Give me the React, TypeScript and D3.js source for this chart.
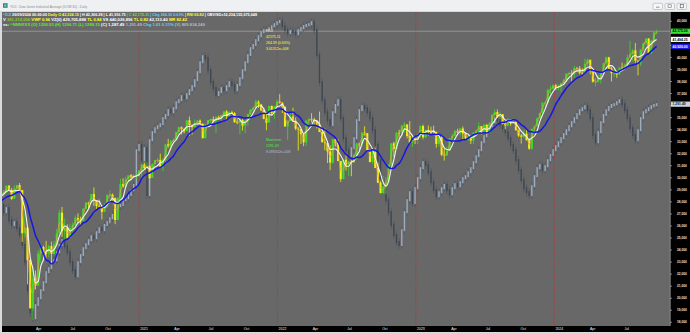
import React from "react";
import * as d3 from "d3";

// ---------- DATA ----------
const firstWeekEnding = "2020-01-03";
const warmupCloses = [26958, 27347, 27681, 28005, 27876, 28051, 28015, 28135, 28455, 28645];

const djiClose = [
  28634,28823,29348,28990,28256,29102,29398,28992,25409,25864,23186,19174,21637,21053,23719,24242,23775,23724,24331,23685,24465,25383,27111,25605,25871,25016,25827,26075,26672,26470,26428,27433,27931,27930,28654,28133,27666,27657,27174,27683,28586,28606,28336,26501,28323,29479,29263,29910,30218,30046,30179,30199,
  30606,31098,30814,30997,29983,31148,31458,31494,30932,31496,32779,32628,33073,33153,33801,34200,34043,33875,34778,34382,34208,34529,34756,34480,33290,34434,34786,34870,34687,35062,34935,35209,35515,35120,35456,35369,34608,34584,34798,34327,34746,35295,35677,35820,36328,36100,35602,34899,34580,35971,35365,35951,36338,
  36232,35912,34265,34725,35089,34738,34079,34059,33615,32944,34755,34862,34818,34721,34451,33811,32977,32899,32197,31262,33213,32900,31393,29889,31501,31097,31338,31288,31899,32845,32803,33761,33707,32283,31318,32151,30822,29590,28726,29297,29635,31083,32861,32403,33748,33746,34347,34430,33477,32921,33204,33147,
  33631,34303,33375,33978,33926,33870,33827,32817,33391,31910,31862,32238,33274,33485,33886,33809,34098,33674,33300,33427,33093,33762,33876,34299,33727,34408,33734,34509,35228,35459,35066,35281,34500,34346,34838,34577,34618,33964,33508,33407,33670,33127,32418,34061,34283,34947,35390,36246,36248,37306,37385,37690,
  37466,37593,37863,38109,38654,38671,38628,39131,39087,38723,38715,39476,39807,38905,37983,37986,38240,38676,39513,40004,39070,38686,38799,38589,39150,39119,39376,40001,40288,40590,39737,39498,40660,41175,41563,40345,41394,42063,42175,
];

const djiHigh = [
  28873,29009,29374,29374,29160,29380,29415,29568,28990,27100,25900,23180,22600,22300,24000,24260,24360,24760,24450,24700,24770,25760,27340,27580,26610,26130,26200,26290,26880,27050,26770,27500,28000,28000,28660,29200,28100,28200,27700,27900,28600,28960,28700,28340,28380,29930,29960,30110,30220,30320,30300,30300,
  30640,31190,31280,31270,31030,31200,31480,31650,32000,31630,32790,33230,33140,33260,33810,34260,34260,34120,34810,35090,34400,34850,34800,34850,34530,34500,34790,34900,35100,35100,35170,35250,35520,35630,35510,35560,35460,34900,34900,34900,34800,35300,35700,35900,36470,36440,36150,35820,35460,35980,36000,35960,36530,
  36950,36300,35900,34800,35460,35820,35000,34200,34050,33700,34760,35000,35370,35000,34800,35500,34100,34120,32900,32700,33220,33250,33200,31390,31520,31900,31400,31500,32000,32900,32900,33780,34280,33710,32350,32200,32500,31200,29750,30180,30040,31100,32880,33000,33800,33990,34350,34600,34430,34710,33550,33390,
  33650,34340,34420,34000,34340,34250,34330,33760,33420,33570,32500,32600,33300,33670,34000,34080,34150,34260,33760,33590,33500,33780,34000,34590,34300,34450,34450,34650,35280,35680,35680,35500,35300,34620,34980,34840,34980,34700,34000,33650,34000,34000,33300,34100,34300,35000,35400,36250,36300,37400,37640,37780,
  37800,37780,37900,38200,38700,38800,38930,39280,39200,39280,39100,39890,39890,39800,39000,38300,38550,38750,39530,40080,40050,39200,39000,38900,39200,39560,39480,40250,41380,40700,41200,39700,40700,41240,41600,41600,41430,42140,42300,
];

const djiLow = [
  28420,28440,28740,28900,28170,28260,29000,28940,24680,25020,21150,19120,18210,20740,21200,22930,23150,23360,23380,22790,23600,24440,25100,25080,24840,24980,24990,25520,25900,26250,25990,26400,27380,27500,27850,27660,27400,27500,26540,27150,27500,28250,28050,26150,26600,28300,29180,29300,29640,29850,29950,29900,
  30100,29880,30700,30850,29900,29990,31120,31260,30900,30550,31100,32500,32300,32800,33150,33620,33600,33700,33870,33470,33590,34200,34370,34430,33270,33290,34350,34390,34600,33740,34810,34750,35050,34700,35110,35300,34600,34450,33610,33920,33700,34350,35200,35450,35800,35800,35540,34860,33950,34600,35200,34900,35940,
  36150,35370,34240,33150,34700,34690,33960,32270,32800,32630,32650,34300,34600,34330,34100,33800,32910,32300,31230,30640,31150,32600,31390,29650,29900,30600,30140,30140,31200,31540,32280,32600,33500,32200,31280,31130,30800,29570,28720,28700,28660,29600,31000,31730,32400,33300,33600,33800,33280,32800,32570,32800,
  32810,33320,33200,33320,33500,33600,33650,32500,32580,31800,31430,31800,32220,33100,33400,33700,33500,33230,33200,33050,32800,32810,33560,33800,33600,33700,33600,33700,34500,35100,35000,34900,34430,34030,34300,34320,34470,33900,33400,32850,33350,33100,32330,32330,33800,34250,34900,35250,35900,36200,37000,37350,
  37300,37260,37120,37800,37950,38350,37920,38300,38800,38600,38550,38700,39300,38600,37900,37610,37900,37820,38600,39350,38900,38000,38400,38300,38550,38900,38950,39300,40000,39650,39500,38500,39280,40500,41000,40300,40300,41200,41900,
];

// Comparison series (its own units, drawn on its own scale)
const compareClose = [
  1039,1021,1031,1001,989, 996,981,964,939,896, 826,771,756,789,806, 826,846,871,881,896,
  901,921,939,951,936, 921,896,876,861,896, 914,931,941,951,961, 956,971,981,976,989,
  996,1006,1014,1026,1036, 1039,1051,1056,1064,1076, 1089,1176,1189,1151,1181, 1064,1201,1221,1231,1236,
  1241,1256,1264,1276,1271, 1281,1296,1301,1311,1306, 1316,1326,1336,1351,1371, 1396,1411,1406,1376,1346,
  1331,1314,1321,1331,1326, 1336,1346,1339,1326,1339, 1356,1376,1396,1414,1431, 1439,1451,1461,1471,1476,
  1476,1481,1486,1491,1496, 1499,1486,1476,1469,1474, 1471,1466,1476,1481,1486, 1489,1491,1496,1476,1414,
  1346,1301,1271,1251,1239, 1271,1289,1301,1256,1206, 1176,1161,1181,1206,1251, 1276,1286,1281,1271,1256,
  1226,1189,1151,1106,1081, 1051,1021,989,964,946, 939,976,1021,1051,1071, 1044,1081,1106,1131,1146,
  1139,1121,1096,1076,1061, 1071,1081,1089,1076,1066, 1081,1091,1086,1096,1106, 1111,1121,1131,1146,1161,
  1176,1196,1211,1226,1236, 1246,1256,1251,1239,1231, 1221,1206,1189,1176,1151, 1126,1101,1081,1071,1064,
  1086,1111,1131,1139,1126, 1136,1151,1164,1176,1186, 1196,1206,1216,1226,1236, 1246,1256,1266,1276,1281,
  1286,1276,1256,1214,1196, 1221,1246,1264,1276,1284, 1289,1291,1296,1301,1291, 1276,1256,1231,1214,1201,
  1226,1256,1271,1276,1281, 1286,1289,1291,
];
const compareDomain = [745.7, 1498.2];
const compareLastLabel = "1,291.49";

const priceDomain = [18000, 43000];
const priceTicks = [18000,19000,20000,21000,22000,23000,24000,25000,26000,27000,28000,29000,30000,31000,32000,33000,34000,35000,36000,37000,38000,39000,40000,41000,42000,43000];

const dateTickValues = ["2020-04-01","2020-07-01","2020-10-01","2021-01-01","2021-04-01","2021-07-01","2021-10-01","2022-01-01","2022-04-01","2022-07-01","2022-10-01","2023-01-01","2023-04-01","2023-07-01","2023-10-01","2024-01-01","2024-04-01","2024-07-01"];
const dateTickLabels = ["Apr","Jul","Oct","2021","Apr","Jul","Oct","2022","Apr","Jul","Oct","2023","Apr","Jul","Oct","2024","Apr","Jul"];
const yearLines = ["2021-01-01","2022-01-01","2023-01-01","2024-01-01"];

const titleText = "^DJI - Dow Jones Industrial Average (DOW 30) - Daily";

const headerLine1: [string, string][] = [
  ["^DJI", "#5fd0ff"], [" 26/09/2024 00:00:00", "#ffffff"], [" Daily", "#ffff33"],
  [" O 42,224.15", "#ffff33"], [" | H 42,306.28", "#ffffff"], [" | L 41,916.75", "#ffffff"],
  [" | C 42,175.11", "#55ee33"], [" | Chg 264.39 0.63%", "#5fd0ff"], [" | RSI 65.82", "#ffff33"],
  [" | OBV/SD=10,234,155,675,648", "#ffffff"],
];
const headerLine2: [string, string][] = [
  ["V", "#ffffff"], [" 361,312,000", "#99cc33"], [" VWP 0.96", "#ffff33"], [" VZ(0) 429,705,888", "#ffffff"],
  [" TL 0.84", "#ffff33"], [" VS 440,026,896", "#ffffff"], [" TL 0.82", "#ffff33"],
  [" 42,113.40", "#ffffff"], [" MR 82.42", "#ffff33"],
];
const headerLine3: [string, string][] = [
  ["vs:", "#ffffff"], [" ^NNNXXX (O) 1290.93 (H) 1296.71 (L) 1289.15", "#55ee33"],
  [" (C) 1,287.49", "#ffffff"], [" 1,291.49", "#a9bccf"], [" Chg 1.01 0.31%", "#5fd0ff"],
  [" (V) 809,834,240", "#a9bccf"],
];

const tipLines = ["^DJI", "42175.11", "264.39 (0.63%)", "3.61312e+008"];
const maxLines = ["Maximum", "1291.49", "8.098342e+008"];

// ---------- LAYOUT ----------
const W = 690, H = 333;
const plotL = 2, plotR = 670, plotT = 12, plotB = 326;
const FONT = "'Liberation Sans', Arial, sans-serif";

export default function App() {
  const parse = d3.utcParse("%Y-%m-%d");
  const start = parse(firstWeekEnding) as Date;
  const dates = djiClose.map((_, i) => d3.utcDay.offset(start, 7 * i));
  const x = d3.scaleUtc().domain([start, dates[dates.length - 1]]).range([1, 656.6]);
  const y = d3.scaleLinear().domain(priceDomain).range([322.3, 21.3]);
  const yc = d3.scaleLinear().domain(compareDomain).range([322.3, 21.3]);

  const all = warmupCloses.concat(djiClose);
  const off = warmupCloses.length;
  const sma = (n: number) => djiClose.map((_, i) => d3.mean(all.slice(off + i - n + 1, off + i + 1)) as number);
  const orange = sma(2), white = sma(4), blue = sma(10);
  const line = d3.line<number>().x((_, i) => x(dates[i])).y((v) => y(v)).curve(d3.curveMonotoneX);

  const opens = djiClose.map((_, i) => (i === 0 ? warmupCloses[warmupCloses.length - 1] : djiClose[i - 1]));
  const cOpens = compareClose.map((v, i) => (i === 0 ? v : compareClose[i - 1]));
  const fmt = d3.format(",.2f");
  const fmtTick = d3.format(",");

  const last = djiClose[djiClose.length - 1];
  const boxes = [
    { v: y(last), bg: "#33e633", fg: "#000", t: fmt(last) },
    { v: y(white[white.length - 1]), bg: "#ffffff", fg: "#000", t: fmt(white[white.length - 1]) },
    { v: y(blue[blue.length - 1]), bg: "#1c1cf0", fg: "#fff", t: fmt(blue[blue.length - 1]) },
    { v: yc(compareClose[compareClose.length - 1]), bg: "#c9d4e0", fg: "#222", t: compareLastLabel },
  ];
  const visibleTicks = priceTicks.filter((t) => boxes.every((b) => Math.abs(y(t) - b.v) > 5.2));

  const hdr = (segs: [string, string][], yy: number, len: number) => (
    <text x={3} y={yy} fontSize={3.7} fontFamily={FONT} fontWeight="bold" textLength={len} lengthAdjust="spacingAndGlyphs">
      {segs.map((s, i) => (<tspan key={i} fill={s[1]}>{s[0]}</tspan>))}
    </text>
  );

  return (
    <svg width={W} height={H} style={{ position: "absolute", left: 0, top: 0 }} xmlns="http://www.w3.org/2000/svg">
      <defs>
        <clipPath id="plotClip"><rect x={plotL} y={plotT} width={plotR - plotL} height={plotB - plotT} /></clipPath>
      </defs>
      {/* window frame */}
      <rect x={0} y={0} width={W} height={H} fill="#d9dbdd" />
      <rect x={0} y={0} width={W} height={12} fill="#eef0f2" />
      <line x1={0} x2={W} y1={11.5} y2={11.5} stroke="#c4c6c8" strokeWidth={0.6} />
      <rect x={3} y={3.2} width={4.6} height={4.6} fill="#2f8f4f" />
      <rect x={4.2} y={4.4} width={2.2} height={2.2} fill="#6fb8ff" />
      <text x={10} y={8.1} fontSize={4} fontFamily={FONT} fill="#8a8c8e" textLength={77} lengthAdjust="spacingAndGlyphs">{titleText}</text>
      {[653, 665, 677].map((bx, i) => (
        <g key={i}>
          <rect x={bx} y={3.3} width={9.5} height={6.2} rx={1} fill="#f7f7f7" stroke="#9a9ca0" strokeWidth={0.5} />
          {i === 0 && <line x1={bx + 3} x2={bx + 6.5} y1={7.2} y2={7.2} stroke="#555" strokeWidth={0.6} />}
          {i === 1 && <rect x={bx + 3} y={4.8} width={3.2} height={2.8} fill="none" stroke="#555" strokeWidth={0.5} />}
          {i === 2 && <rect x={bx + 3.2} y={4.6} width={3.2} height={3.2} fill="none" stroke="#555" strokeWidth={0.6} />}
        </g>
      ))}

      {/* plot background */}
      <rect x={plotL} y={plotT} width={plotR - plotL} height={plotB - plotT} fill="#686868" />

      <g clipPath="url(#plotClip)">
        {/* year separators */}
        {yearLines.map((d) => {
          const xx = x(parse(d) as Date);
          return <line key={d} x1={xx} x2={xx} y1={plotT} y2={plotB} stroke="#c42a2a" strokeWidth={0.7} strokeDasharray="1.2,1.2" />;
        })}
        {/* last price line */}
        <line x1={plotL} x2={plotR} y1={y(last)} y2={y(last)} stroke="#a6a6a6" strokeWidth={0.7} />

        {/* comparison series */}
        {compareClose.map((c, i) => {
          const o = cOpens[i];
          const xx = x(dates[i]);
          const top = yc(Math.max(o, c)), bot = yc(Math.min(o, c));
          const col = c >= o ? "#9cadc2" : "#3f4852";
          return (
            <g key={"c" + i}>
              <line x1={xx} x2={xx} y1={top - 4} y2={bot + 4} stroke="#4a5460" strokeWidth={0.6} />
              <rect x={xx - 0.7} y={top - 1} width={1.4} height={Math.max(bot - top, 1) + 2} fill={col} />
            </g>
          );
        })}

        {/* DJI weekly candles */}
        {djiClose.map((c, i) => {
          const o = opens[i];
          const xx = x(dates[i]);
          const up = c >= o;
          const col = up ? "#3fd82a" : "#f2f20c";
          const top = y(Math.max(o, c)), bot = y(Math.min(o, c));
          return (
            <g key={"d" + i}>
              <line x1={xx} x2={xx} y1={y(djiHigh[i])} y2={y(djiLow[i])} stroke={col} strokeWidth={0.8} />
              <rect x={xx - 1.05} y={top} width={2.1} height={Math.max(bot - top, 0.8)} fill={col} />
            </g>
          );
        })}

        {/* moving averages */}
        <path d={line(orange) || ""} fill="none" stroke="#e89a4a" strokeWidth={0.8} />
        <path d={line(white) || ""} fill="none" stroke="#f4f4f4" strokeWidth={1.1} />
        <path d={line(blue) || ""} fill="none" stroke="#1616e6" strokeWidth={1.5} />

        {/* annotations */}
        {tipLines.map((t, i) => (
          <text key={t} x={266} y={31.8 + i * 6} fontSize={3.5} fontFamily={FONT} fill={i === 0 ? "#ffffcc" : "#ffff33"}>{t}</text>
        ))}
        {maxLines.map((t, i) => (
          <text key={t} x={266} y={141.3 + i * 6} fontSize={3.5} fontFamily={FONT} fill={i < 2 ? "#44ee44" : "#a8bfd6"}>{t}</text>
        ))}
      </g>

      {/* header */}
      {hdr(headerLine1, 16.3, 254)}
      {hdr(headerLine2, 20.9, 184)}
      {hdr(headerLine3, 25.6, 202)}

      {/* right price axis */}
      <rect x={plotR} y={plotT} width={W - plotR} height={plotB - plotT + 6} fill="#000" />
      <line x1={plotR + 0.3} x2={plotR + 0.3} y1={plotT} y2={plotB} stroke="#bdbdbd" strokeWidth={0.6} />
      {priceTicks.map((t) => (
        <line key={"tk" + t} x1={plotR} x2={plotR + 2} y1={y(t)} y2={y(t)} stroke="#ddd" strokeWidth={0.5} />
      ))}
      {visibleTicks.map((t) => (
        <text key={t} x={677} y={y(t)} dy="0.35em" fontSize={3.2} fontWeight="bold" fontFamily={FONT} fill="#e4e4e4">{fmtTick(t)}</text>
      ))}
      {boxes.map((b, i) => (
        <g key={i}>
          <rect x={plotR + 1} y={b.v - 2.6} width={19} height={5.2} fill={b.bg} />
          <text x={plotR + 2.5} y={b.v} dy="0.35em" fontSize={3.4} fontWeight="bold" fontFamily={FONT} fill={b.fg}>{b.t}</text>
        </g>
      ))}

      {/* bottom date axis */}
      <rect x={plotL} y={plotB} width={W - plotL} height={6} fill="#000" />
      {dateTickValues.map((d, i) => (
        <text key={d} x={x(parse(d) as Date) + 1.2} y={330.4} fontSize={3.5} fontFamily={FONT} fill="#f0f0f0">{dateTickLabels[i]}</text>
      ))}
    </svg>
  );
}
